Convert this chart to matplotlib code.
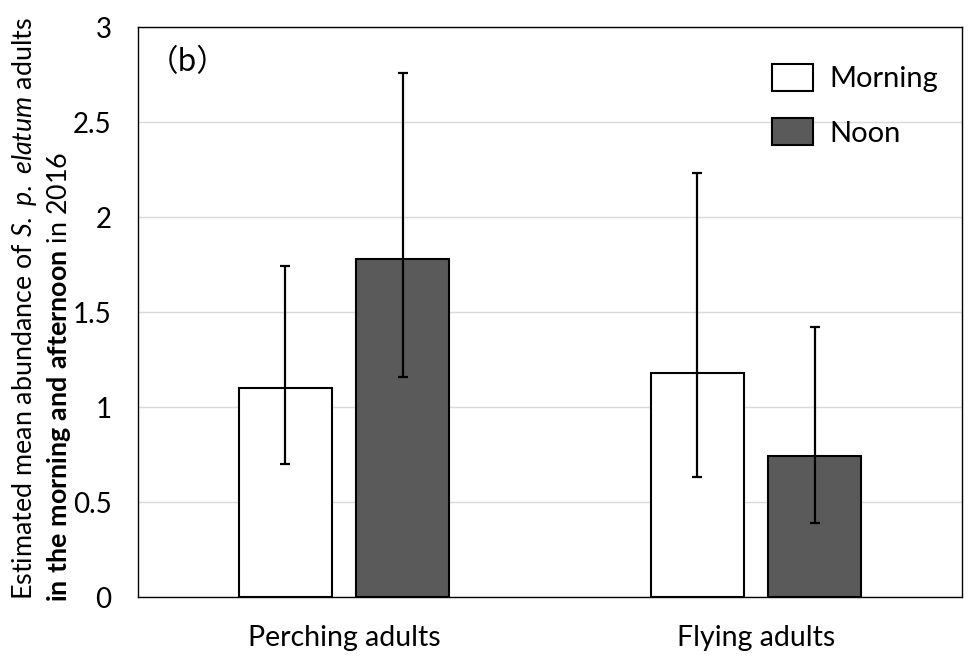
import matplotlib
matplotlib.use("Agg")
import matplotlib.pyplot as plt
import numpy as np

plt.rcParams['font.family'] = ['Lato', 'DejaVu Sans']
plt.rcParams['mathtext.fontset'] = 'custom'
plt.rcParams['mathtext.rm'] = 'Lato'
plt.rcParams['mathtext.it'] = 'Lato:italic'
plt.rcParams['mathtext.bf'] = 'Lato:bold'

# Data
categories = ["Perching adults", "Flying adults"]
series_names = ["Morning", "Noon"]
morning_mean = [1.10, 1.18]
morning_low = [0.70, 0.63]
morning_high = [1.74, 2.23]
noon_mean = [1.78, 0.74]
noon_low = [1.16, 0.39]
noon_high = [2.76, 1.42]
yticks = [0, 0.5, 1, 1.5, 2, 2.5, 3]
ytick_labels = ["0", "0.5", "1", "1.5", "2", "2.5", "3"]

fig = plt.figure(figsize=(9.69, 6.57), dpi=100)
ax = fig.add_axes([0.1424, 0.0913, 0.8504, 0.8676])

x = np.arange(len(categories))
width = 0.226
offset = 0.143

def err(mean, low, high):
    mean = np.array(mean); low = np.array(low); high = np.array(high)
    return np.vstack([mean - low, high - mean])

ax.bar(x - offset, morning_mean, width, color="white", edgecolor="black",
       linewidth=1.5, label=series_names[0], zorder=2)
ax.bar(x + offset, noon_mean, width, color="#5a5a5a", edgecolor="black",
       linewidth=1.5, label=series_names[1], zorder=2)
ax.errorbar(x - offset, morning_mean, yerr=err(morning_mean, morning_low, morning_high),
            fmt="none", ecolor="black", elinewidth=1.6, capsize=3.5, capthick=1.6, zorder=3)
ax.errorbar(x + offset, noon_mean, yerr=err(noon_mean, noon_low, noon_high),
            fmt="none", ecolor="black", elinewidth=1.6, capsize=3.5, capthick=1.6, zorder=3)

ax.set_xlim(-0.5, 1.5)
ax.set_ylim(0, 3)
ax.set_yticks(yticks)
ax.set_yticklabels(ytick_labels)
ax.set_xticks(x)
ax.set_xticklabels(categories)
ax.tick_params(axis='both', length=0, labelsize=20.5)
ax.tick_params(axis='y', labelsize=20, pad=19)
ax.tick_params(axis='x', pad=20.5)
ax.yaxis.grid(True, color="#d9d9d9", linewidth=1)
ax.set_axisbelow(True)
for s in ax.spines.values():
    s.set_color("black")
    s.set_linewidth(1.0)

ax.legend(loc="upper left", bbox_to_anchor=(772 / 969, 1 - 64 / 657),
          bbox_transform=fig.transFigure, frameon=False, fontsize=21,
          handlelength=1.4, handleheight=1.03, handletextpad=0.58,
          labelspacing=0.89, borderpad=0, borderaxespad=0)

fig.text(188 / 969, 1 - 63 / 657, "（b）", fontsize=22,
         family=['Noto Sans CJK JP', 'DejaVu Sans'], va="center", ha="center")

fig.text(25 / 969, 0.087, r"Estimated mean abundance of $\mathit{S.\ p.\ elatum}$ adults",
         rotation=90, ha="center", va="bottom", fontsize=19.4)
fig.text(59 / 969, 0.084, r"$\mathbf{in\ the\ morning\ and\ afternoon}$ in 2016",
         rotation=90, ha="center", va="bottom", fontsize=19.4)

fig.savefig("out.png", dpi=100)
